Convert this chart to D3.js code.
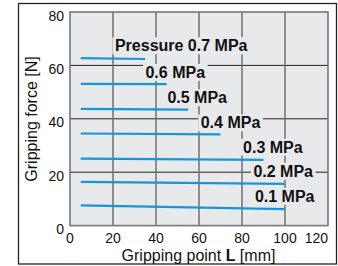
<!DOCTYPE html>
<html>
<head>
<meta charset="utf-8">
<script src="https://cdn.jsdelivr.net/npm/d3@7"></script>
<style>
  body { margin: 0; background: #fff; }
  svg text { font-family: "Liberation Sans", Arial, sans-serif; }
</style>
</head>
<body>
<div class="chart"></div>
<script>
// gripping force vs gripping point, one line per pressure
var pressures = ['Pressure 0.7 MPa', '0.6 MPa', '0.5 MPa', '0.4 MPa', '0.3 MPa', '0.2 MPa', '0.1 MPa'];
var startL = [5, 5, 5, 5, 5, 5, 5];
var endL = [35, 45, 55, 70, 90, 100, 100];
var startF = [62.7, 53.1, 43.7, 34.5, 25.1, 16.4, 7.6];
var endF = [62.4, 53.0, 43.4, 34.2, 24.6, 15.6, 6.2];
// label anchors in data units (left edge, baseline)
var labelL = [20.9, 35.1, 45.3, 60.8, 80.5, 85.3, 86.0];
var labelF = [65.3, 55.3, 45.8, 36.4, 27.3, 18.3, 8.9];
var xTicks = [0, 20, 40, 60, 80, 100, 120];
var yTicks = [0, 20, 40, 60, 80];

var W = 338, H = 266;
var margin = { top: 12, right: 10, bottom: 40.4, left: 70 };
var width = W - margin.left - margin.right;
var height = H - margin.top - margin.bottom;

var svg = d3.select('.chart')
    .append('svg')
    .attr('width', W)
    .attr('height', H);

// outer frame
svg.append('rect')
    .attr('x', 18.5).attr('y', 3.5)
    .attr('width', 318).attr('height', 260.5)
    .attr('fill', 'none')
    .attr('stroke', '#222')
    .attr('stroke-width', 1.3);

var g = svg.append('g')
    .attr('transform', 'translate(' + margin.left + ', ' + margin.top + ')');

var xScale = d3.scaleLinear().domain([0, 120]).range([0, width]);
var yScale = d3.scaleLinear().domain([0, 80]).range([height, 0]);

g.append('rect')
    .attr('width', width).attr('height', height)
    .attr('fill', '#e8e9eb');

// horizontal grid
g.selectAll('.hgrid')
    .data(yTicks.slice(1, -1))
    .enter()
    .append('line')
    .attr('x1', 0).attr('x2', width)
    .attr('y1', d => yScale(d)).attr('y2', d => yScale(d))
    .attr('stroke', '#222')
    .attr('stroke-width', 1);

// vertical grid
g.selectAll('.vgrid')
    .data(xTicks.slice(1, -1))
    .enter()
    .append('line')
    .attr('x1', d => xScale(d)).attr('x2', d => xScale(d))
    .attr('y1', 0).attr('y2', height)
    .attr('stroke', '#6f6f6f')
    .attr('stroke-width', 1.5);

g.append('rect')
    .attr('width', width).attr('height', height)
    .attr('fill', 'none')
    .attr('stroke', '#777')
    .attr('stroke-width', 1.6);

var series = pressures.map((p, i) => ({
    name: p,
    pts: [[startL[i], startF[i]], [endL[i], endF[i]]],
    lx: labelL[i], ly: labelF[i]
}));

var line = d3.line()
    .x(d => xScale(d[0]))
    .y(d => yScale(d[1]));

g.selectAll('.series')
    .data(series)
    .enter()
    .append('path')
    .attr('d', d => line(d.pts))
    .attr('fill', 'none')
    .attr('stroke', '#1496dc')
    .attr('stroke-width', 2.2);

// labels with background that masks the grid
var labels = g.selectAll('.lbl')
    .data(series)
    .enter()
    .append('g')
    .attr('transform', d => `translate(${xScale(d.lx)}, ${yScale(d.ly)})`);

labels.append('text')
    .attr('x', 0).attr('y', 0)
    .style('font-size', '16px')
    .style('font-weight', 'bold')
    .style('fill', '#111')
    .text(d => d.name);

labels.each(function () {
    var sel = d3.select(this);
    var bb = sel.select('text').node().getBBox();
    sel.insert('rect', 'text')
        .attr('x', -2.5).attr('y', -14)
        .attr('width', bb.width + 5).attr('height', 17)
        .attr('fill', '#e8e9eb');
});

// tick labels (last one kept inside the frame)
g.selectAll('.xt')
    .data(xTicks)
    .enter()
    .append('text')
    .attr('x', d => xScale(d))
    .attr('y', height + 17.5)
    .style('text-anchor', (d, i) => i === xTicks.length - 1 ? 'end' : 'middle')
    .style('font-size', '14px')
    .style('fill', '#111')
    .text(d => d);

g.selectAll('.yt')
    .data(yTicks)
    .enter()
    .append('text')
    .attr('x', -6)
    .attr('y', d => yScale(d) + 8.5)
    .style('text-anchor', 'end')
    .style('font-size', '14px')
    .style('fill', '#111')
    .text(d => d);

// axis titles
var xt = svg.append('text')
    .attr('x', 198.5).attr('y', 261)
    .style('text-anchor', 'middle')
    .style('font-size', '16px')
    .style('fill', '#111');
xt.append('tspan').text('Gripping point ');
xt.append('tspan').style('font-weight', 'bold').text('L');
xt.append('tspan').text(' [mm]');

svg.append('text')
    .attr('transform', 'translate(37, 119) rotate(-90)')
    .style('text-anchor', 'middle')
    .style('font-size', '16px')
    .style('fill', '#111')
    .text('Gripping force [N]');
</script>
</body>
</html>
